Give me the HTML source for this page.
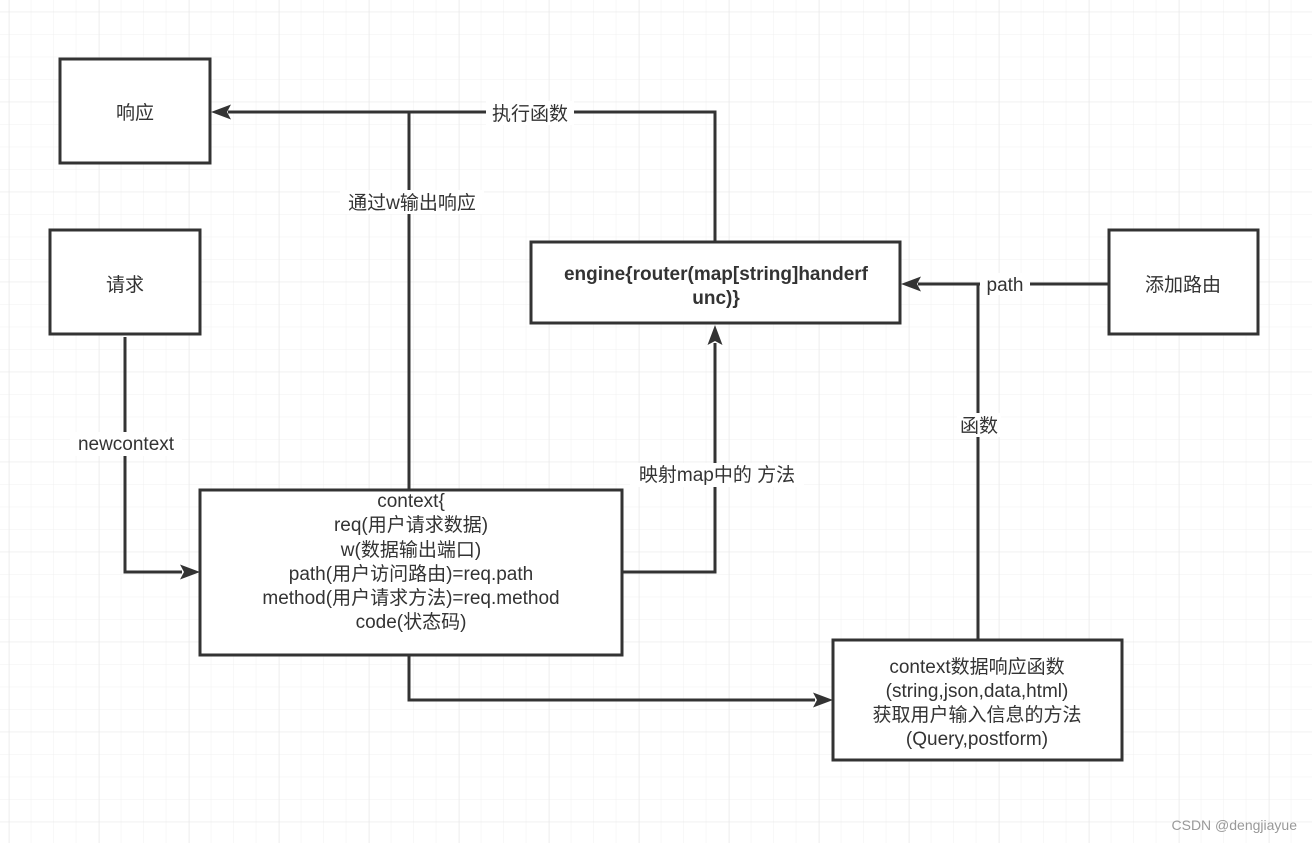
<!DOCTYPE html>
<html><head><meta charset="utf-8"><style>
html,body{margin:0;padding:0;background:#fff;}
svg{display:block;font-family:"Liberation Sans","Noto Sans CJK SC",sans-serif;}
</style></head><body>
<svg width="1312" height="843" viewBox="0 0 1312 843" xmlns="http://www.w3.org/2000/svg">
<defs>
<pattern id="g" x="8.3" y="11.7" width="22.5" height="22.5" patternUnits="userSpaceOnUse">
<path d="M0 0V22.5M0 0H22.5" stroke="#f1f1f1" stroke-width="1" fill="none"/>
</pattern>
<pattern id="G" x="9" y="11.7" width="90" height="90" patternUnits="userSpaceOnUse">
<path d="M0 0V90M0 0H90" stroke="#e9e9e9" stroke-width="1" fill="none"/>
</pattern>
<marker id="a" markerWidth="20" markerHeight="16" refX="18" refY="8" orient="auto" markerUnits="userSpaceOnUse">
<path d="M0 1L19 8L0 15L4 8Z" fill="#333"/>
</marker>
</defs>
<rect width="1312" height="843" fill="#fff"/>
<rect width="1312" height="843" fill="url(#g)"/>
<rect width="1312" height="843" fill="url(#G)"/>
<g stroke="#333" stroke-width="3" fill="none">
<path d="M409 490V112H228"/>
<path d="M715 242V112H409"/>
<path d="M125 337V572H182"/>
<path d="M622 572H715V343"/>
<path d="M409 655V700H815"/>
<path d="M978 640V284"/>
<path d="M1108 284H918"/>
</g>
<g fill="#333">
<path d="M211 112L231 104.5L227 112L231 119.5Z"/>
<path d="M200 572L180 564.5L184 572L180 579.5Z"/>
<path d="M715 325L707.5 345L715 341L722.5 345Z"/>
<path d="M833 700L813 692.5L817 700L813 707.5Z"/>
<path d="M901 284L921 276.5L917 284L921 291.5Z"/>
</g>
<g stroke="#333" stroke-width="3" fill="#fff">
<rect x="60" y="59" width="150" height="104"/>
<rect x="50" y="230" width="150" height="104"/>
<rect x="531" y="242" width="369" height="81"/>
<rect x="1109" y="230" width="149" height="104"/>
<rect x="200" y="490" width="422" height="165"/>
<rect x="833" y="640" width="289" height="120"/>
</g>
<g fill="#333" font-size="19" text-anchor="middle">
<text x="135" y="119">响应</text>
<text x="125" y="291">请求</text>
<text x="1183" y="291">添加路由</text>
<text x="716" y="280" font-weight="bold">engine{router(map[string]handerf</text>
<text x="716" y="304" font-weight="bold">unc)}</text>
<text x="411" y="507">context{</text>
<text x="411" y="531">req(用户请求数据)</text>
<text x="411" y="556">w(数据输出端口)</text>
<text x="411" y="580">path(用户访问路由)=req.path</text>
<text x="411" y="604">method(用户请求方法)=req.method</text>
<text x="411" y="628">code(状态码)</text>
<text x="977" y="673">context数据响应函数</text>
<text x="977" y="697">(string,json,data,html)</text>
<text x="977" y="721">获取用户输入信息的方法</text>
<text x="977" y="745">(Query,postform)</text>
</g>
<g font-size="19" text-anchor="middle" fill="#333">
<rect x="486" y="101" width="88" height="24" fill="#fff"/>
<text x="530" y="120">执行函数</text>
<rect x="340" y="190" width="144" height="24" fill="#fff"/>
<text x="412" y="209">通过w输出响应</text>
<rect x="70" y="432" width="112" height="24" fill="#fff"/>
<text x="126" y="450">newcontext</text>
<rect x="630" y="463" width="174" height="24" fill="#fff"/>
<text x="717" y="481">映射map中的 方法</text>
<rect x="957" y="413" width="44" height="24" fill="#fff"/>
<text x="979" y="432">函数</text>
<rect x="980" y="273" width="50" height="22" fill="#fff"/>
<text x="1005" y="291">path</text>
</g>
<text x="1297" y="830" font-size="14" fill="#999" text-anchor="end">CSDN @dengjiayue</text>
</svg>
</body></html>
